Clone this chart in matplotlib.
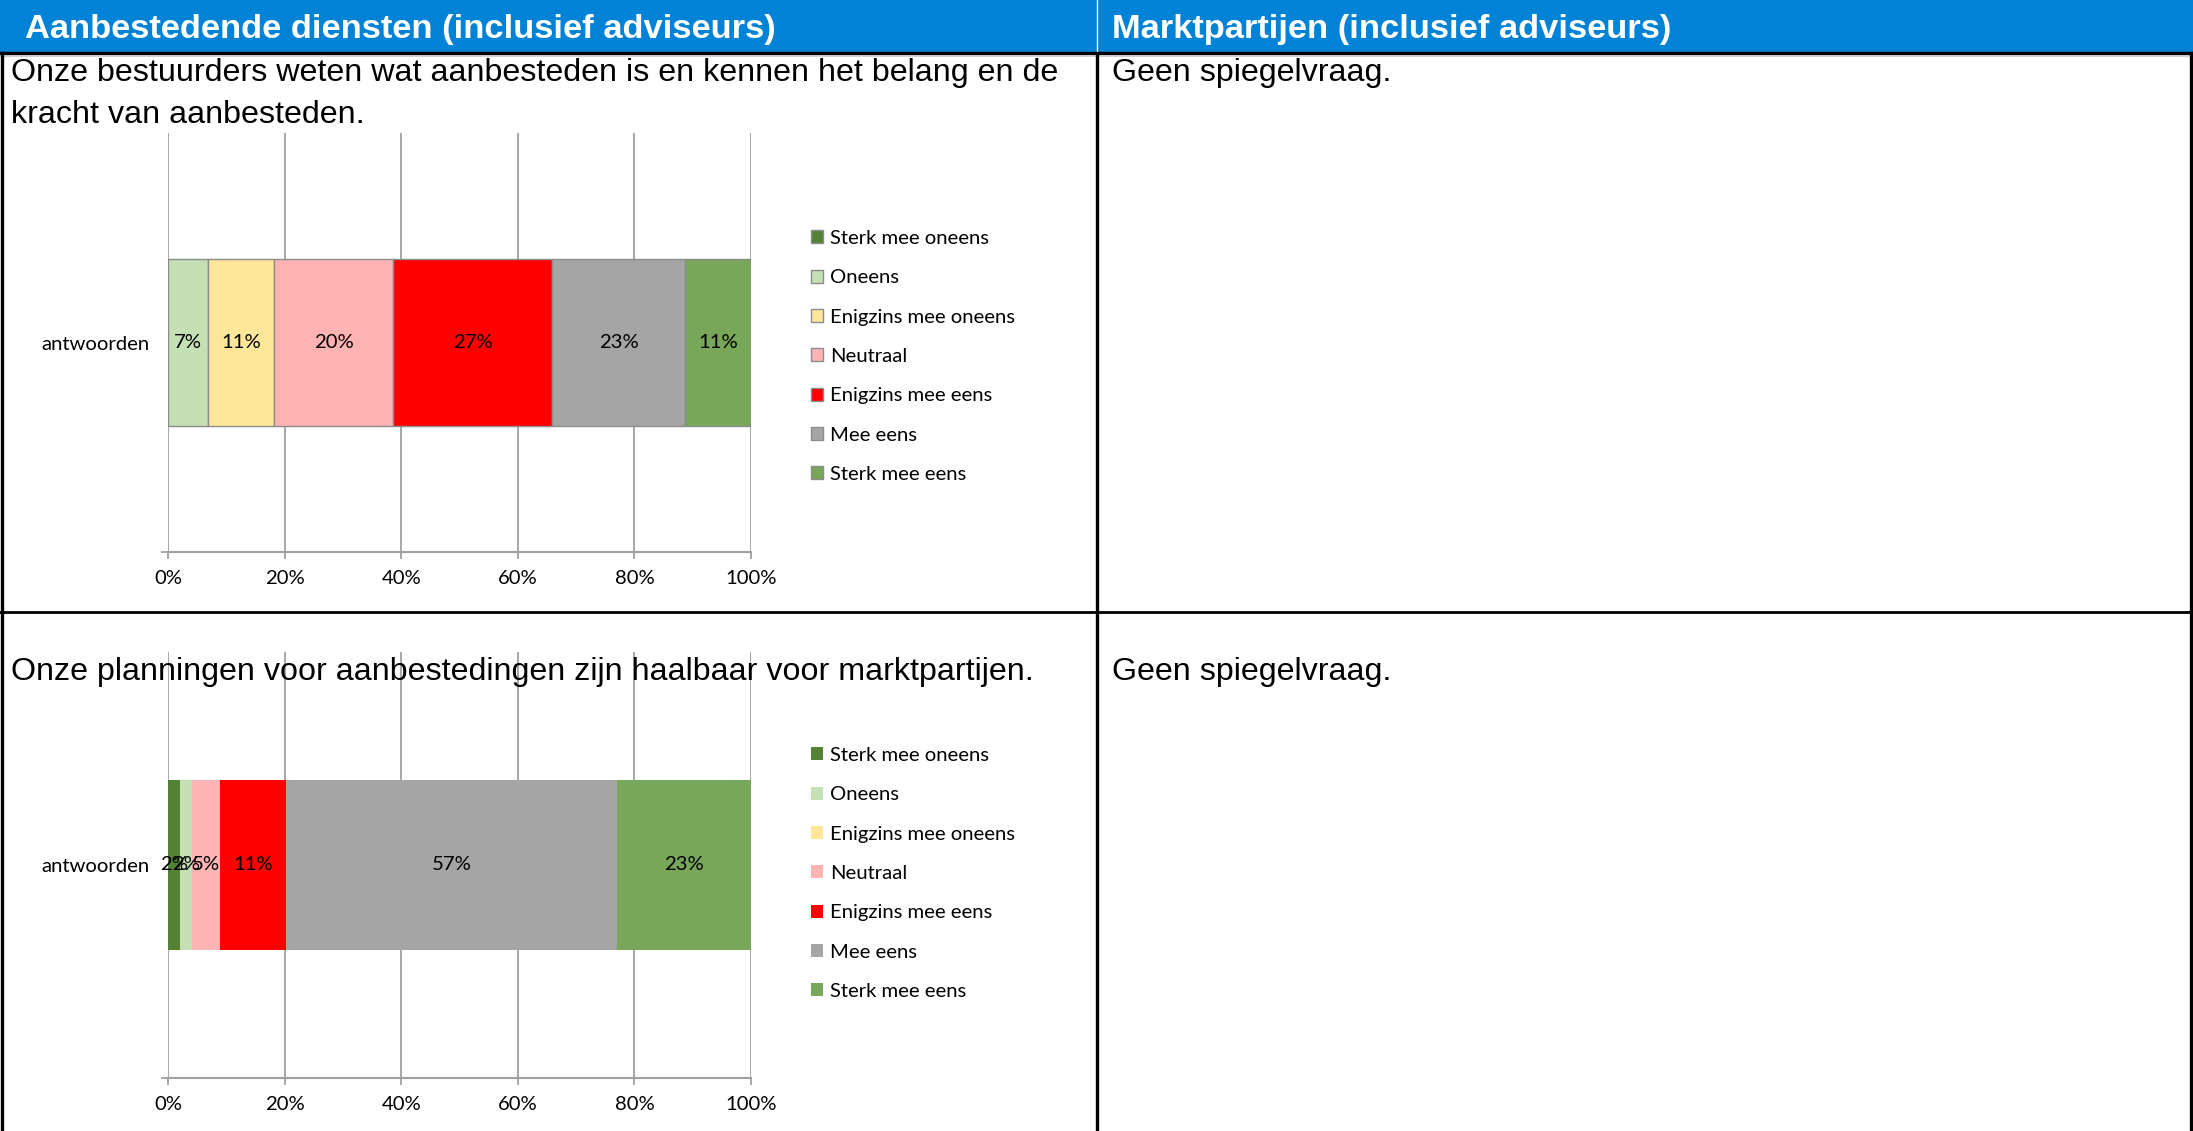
import numpy as np
import matplotlib
matplotlib.use('Agg')
import matplotlib.pyplot as plt
from matplotlib.patches import Rectangle
from matplotlib.lines import Line2D

# answer categories (stacked left to right) and their colours
categories = ['Sterk mee oneens', 'Oneens', 'Enigzins mee oneens', 'Neutraal',
              'Enigzins mee eens', 'Mee eens', 'Sterk mee eens']
colors = ['#548235', '#C5E0B4', '#FFE699', '#FFB3B3', '#FF0000', '#A5A5A5', '#78A759']

# percentages
q1_values = [0, 6.8, 11.4, 20.4, 27.3, 22.8, 11.3]
q2_values = [2.0, 2.1, 0, 4.8, 11.3, 56.8, 23.0]
bar_label = ['antwoorden']

headers = ['Aanbestedende diensten (inclusief adviseurs)', 'Marktpartijen (inclusief adviseurs)']
q1_text = 'Onze bestuurders weten wat aanbesteden is en kennen het belang en de\nkracht van aanbesteden.'
q2_text = 'Onze planningen voor aanbestedingen zijn haalbaar voor marktpartijen.'
mirror_text = 'Geen spiegelvraag.'
xticks = [0, 20, 40, 60, 80, 100]

W, H = 2193, 1131
fig = plt.figure(figsize=(W / 100, H / 100), dpi=100)

def fx(x):
    return x / W

def fy(y):
    return 1 - y / H

def hline(y, x0, x1, lw, color='black'):
    fig.add_artist(Line2D([fx(x0), fx(x1)], [fy(y), fy(y)], lw=lw, color=color))

def vline(x, y0, y1, lw, color='black'):
    fig.add_artist(Line2D([fx(x), fx(x)], [fy(y0), fy(y1)], lw=lw, color=color))

# table frame
fig.add_artist(Rectangle((0, fy(52)), 1, 52 / H, color='#0082D6', lw=0))
hline(53, 0, W, 2.4)
hline(56, 0, W, 1.2, '#C8C8C8')
vline(1097, 0, 52, 1.0, 'white')
vline(2, 53, H, 2.4)
vline(2191, 53, H, 2.4)
vline(1097, 53, H, 2.4)
hline(612, 0, W, 2.0)

head = dict(family='Liberation Sans', color='white', fontsize=24.8, fontweight='bold', va='baseline')
txt = dict(family='Liberation Sans', color='black', fontsize=23.2, va='baseline')
fig.text(fx(25), fy(38), headers[0], **head)
fig.text(fx(1112), fy(38), headers[1], **head)
fig.text(fx(11), fy(81), q1_text.split('\n')[0], **txt)
fig.text(fx(11), fy(123), q1_text.split('\n')[1], **txt)
fig.text(fx(1112), fy(81), mirror_text, **txt)
fig.text(fx(11), fy(680), q2_text, **txt)
fig.text(fx(1112), fy(680), mirror_text, **txt)

chart_font = 'Lato'
fs = 14.6


def stacked_bar(top, bottom, values, edge, legend_top):
    ax = fig.add_axes([fx(168), fy(bottom), (751 - 168) / W, (bottom - top) / H])
    left = np.concatenate([[0], np.cumsum(values)[:-1]])
    for v, l, c, name in zip(values, left, colors, categories):
        ax.barh(0, v, left=l, height=0.4, color=c, label=name,
                edgecolor='#8C8C8C' if edge else 'none', linewidth=1.0 if edge else 0, zorder=3)
        if v > 0:
            ax.text(l + v / 2, 0, f'{v:.0f}%', ha='center', va='center',
                    family=chart_font, fontsize=fs, zorder=4)
    ax.set_xlim(0, 100)
    ax.set_ylim(-0.5, 0.5)
    ax.set_xticks(xticks)
    ax.set_xticklabels([f'{t}%' for t in xticks], family=chart_font, fontsize=fs)
    ax.set_yticks([0])
    ax.set_yticklabels(bar_label, family=chart_font, fontsize=fs)
    ax.set_yticks([-0.5], minor=True)
    ax.tick_params(axis='y', which='major', length=0, pad=13)
    ax.tick_params(axis='y', which='minor', length=5, color='#A0A0A0', width=1.3)
    ax.tick_params(axis='x', length=5, color='#A0A0A0', width=1.3, pad=8)
    ax.grid(axis='x', color='#A0A0A0', lw=1.3, zorder=0)
    for s in ['top', 'right', 'left']:
        ax.spines[s].set_visible(False)
    ax.spines['bottom'].set_color('#A0A0A0')
    ax.spines['bottom'].set_linewidth(1.5)
    ax.legend(loc='upper left', bbox_to_anchor=(fx(811), fy(legend_top)),
              bbox_transform=fig.transFigure, frameon=False,
              prop={'family': chart_font, 'size': fs},
              handlelength=0.6, handleheight=0.6, handletextpad=0.35,
              labelspacing=1.1, borderaxespad=0, borderpad=0)
    return ax


stacked_bar(133, 552, q1_values, True, 230)
stacked_bar(652, 1078, q2_values, False, 747)

fig.savefig('out.png', dpi=100)
